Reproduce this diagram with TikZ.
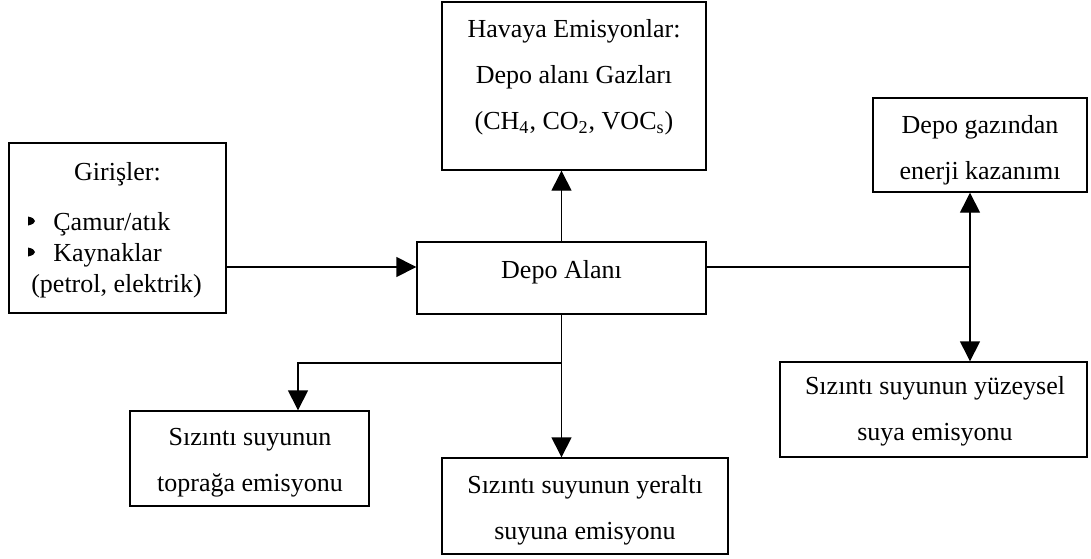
\documentclass[tikz,border=0pt]{standalone}
\usepackage{fontspec}
\setmainfont{Liberation Serif}
\usetikzlibrary{arrows.meta}

\tikzset{
  box/.style={draw, line width=0.7pt, inner sep=0pt, fill=white},
  txt/.style={font=\fontsize{13}{23}\selectfont, align=center, inner sep=0pt},
  listtxt/.style={font=\fontsize{13}{15.75}\selectfont, inner sep=0pt},
  link/.style={line width=0.7pt},
  arr/.style={link, -{Triangle[length=10pt,width=10pt]}},
}

\begin{document}
\begin{tikzpicture}[x=0.5pt, y=-0.5pt]
  \useasboundingbox (0,0) rectangle (1091,558);

  % boxes
  \node[box, minimum width=108.5pt, minimum height=85pt]   (inputs)  at (117.5,228) {};
  \node[box, minimum width=132pt,   minimum height=84pt]   (air)     at (574,86) {};
  \node[box, minimum width=144.5pt, minimum height=36pt]   (site)    at (561.5,278) {};
  \node[box, minimum width=107pt,   minimum height=47pt]   (energy)  at (980,145) {};
  \node[box, minimum width=153.5pt, minimum height=47.5pt] (surface) at (933.5,409.5) {};
  \node[box, minimum width=119.5pt, minimum height=47.5pt] (soil)    at (249.5,458.5) {};
  \node[box, minimum width=143pt,   minimum height=48pt]   (ground)  at (585,506) {};

  % box texts
  \node[txt] (air-text) at (574,74.3)
    {\strut Havaya Emisyonlar:\\\strut Depo alanı Gazları\\\strut (CH\textsubscript{4}, CO\textsubscript{2}, VOC\textsubscript{s})};
  \node[txt] (site-text) at (561.5,268.8) {\strut Depo Alanı};
  \node[txt] (energy-text) at (980,147.3) {\strut Depo gazından\\\strut enerji kazanımı};
  \node[txt] (surface-text) at (935,407.8) {\strut Sızıntı suyunun yüzeysel\\\strut suya emisyonu};
  \node[txt] (soil-text) at (250,459.3) {\strut Sızıntı suyunun\\\strut toprağa emisyonu};
  \node[txt] (ground-text) at (585,507.3) {\strut Sızıntı suyunun yeraltı\\\strut suyuna emisyonu};

  % inputs list
  \node[listtxt, anchor=base] (in-head) at (117.5,180) {Girişler:};
  \node[listtxt, anchor=base west] (in-a) at (53,230) {Çamur/atık};
  \node[listtxt, anchor=base west] (in-b) at (53,261) {Kaynaklar};
  \node[listtxt, anchor=base] (in-c) at (116.5,292) {(petrol, elektrik)};
  \foreach \by in {221,252}{
    \fill (28,\by-4.5) .. controls (33,\by-3.5) and (35,\by-1.5) .. (35,\by)
          .. controls (35,\by+1.5) and (33,\by+3.5) .. (28,\by+4.5) -- cycle;
  }

  % connector helpers
  \coordinate (feed) at (0,267);
  \coordinate (split) at (561.5,363);
  \coordinate (soil-in) at (298,0);
  \coordinate (hub) at (970,267);

  % connectors
  \draw[arr] (inputs.east |- feed) -- (site.west |- feed);
  \draw[arr] (site.north) -- (site.north |- air.south);
  \draw[arr] (site.south) -- (site.south |- ground.north);
  \draw[arr] (split) -| (soil-in |- soil.north);
  \draw[link] (site.east |- hub) -- (hub);
  \draw[arr] (hub) -- (hub |- energy.south);
  \draw[arr] (hub) -- (hub |- surface.north);
\end{tikzpicture}
\end{document}
